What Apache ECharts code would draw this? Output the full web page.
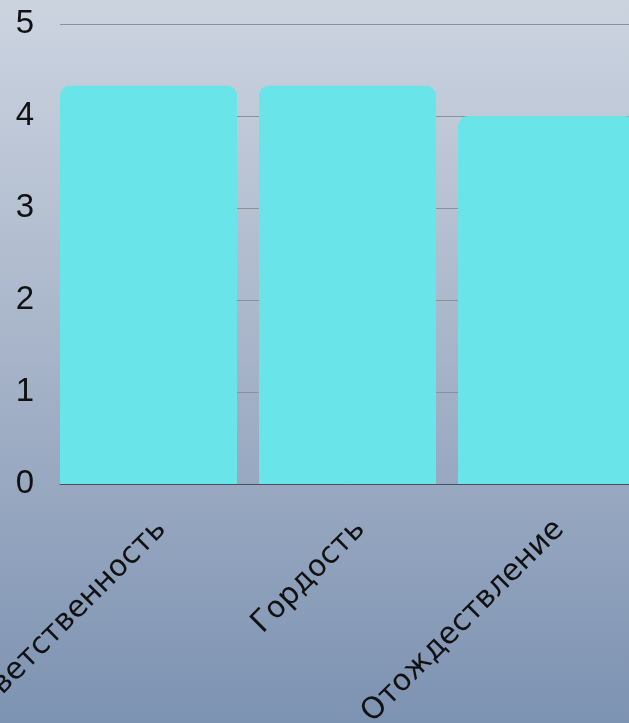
<!DOCTYPE html>
<html>
<head>
<meta charset="utf-8">
<script src="https://cdn.jsdelivr.net/npm/echarts@6/dist/echarts.min.js"></script>
<style>
html,body{margin:0;padding:0;width:629px;height:723px;overflow:hidden;}
#c{width:629px;height:723px;}
</style>
</head>
<body>
<div id="c"></div>
<script>
const categories = ['Ответственность', 'Гордость', 'Отождествление'];
const values = [4.33, 4.33, 4.0];
const yTicks = { min: 0, max: 5, interval: 1 };

const chart = echarts.init(document.getElementById('c'), null, { renderer: 'canvas' });
const font = 'Liberation Sans, Arial, sans-serif';
const g = { top: 24, height: 460, outerBoundsMode: 'none', containLabel: false };
chart.setOption({
  animation: false,
  backgroundColor: {
    type: 'linear', x: 0, y: 0, x2: 0, y2: 1,
    colorStops: [
      { offset: 0, color: '#ccd4e0' },
      { offset: 0.5, color: '#a6b3c8' },
      { offset: 1, color: '#7d93b2' }
    ]
  },
  grid: [
    Object.assign({ left: 60, width: 586 }, g),
    Object.assign({ left: 49, width: 597 }, g),
    Object.assign({ left: 62, width: 597 }, g)
  ],
  xAxis: [
    {
      gridIndex: 0, type: 'category', data: categories,
      axisLine: { show: true, lineStyle: { color: '#4a5262', width: 1 } },
      axisTick: { show: false }, axisLabel: { show: false }, splitLine: { show: false }
    },
    {
      gridIndex: 1, type: 'category', data: categories,
      axisLine: { show: false }, axisTick: { show: false }, axisLabel: { show: false }
    },
    {
      gridIndex: 2, type: 'category', data: categories,
      axisLine: { show: false }, axisTick: { show: false },
      axisLabel: {
        rotate: 45, margin: 41, interval: 0,
        color: '#111', fontSize: 30, fontFamily: 'DejaVu Sans'
      }
    }
  ],
  yAxis: [
    {
      gridIndex: 0, type: 'value', min: yTicks.min, max: yTicks.max, interval: yTicks.interval,
      axisLine: { show: false }, axisTick: { show: false },
      axisLabel: { margin: 26, color: '#111', fontSize: 33, fontFamily: font, padding: [6, 0, 0, 0] },
      splitLine: { show: true, lineStyle: { color: '#8a919c', width: 1 } }
    },
    {
      gridIndex: 1, type: 'value', min: yTicks.min, max: yTicks.max, interval: yTicks.interval,
      axisLine: { show: false }, axisTick: { show: false }, axisLabel: { show: false },
      splitLine: { show: false }
    },
    {
      gridIndex: 2, type: 'value', min: yTicks.min, max: yTicks.max, interval: yTicks.interval,
      axisLine: { show: false }, axisTick: { show: false }, axisLabel: { show: false },
      splitLine: { show: false }
    }
  ],
  series: [{
    type: 'bar', xAxisIndex: 1, yAxisIndex: 1,
    data: values, barWidth: 177,
    itemStyle: { color: '#69e4e8', borderRadius: [10, 10, 0, 0] }
  }]
});
</script>
</body>
</html>
